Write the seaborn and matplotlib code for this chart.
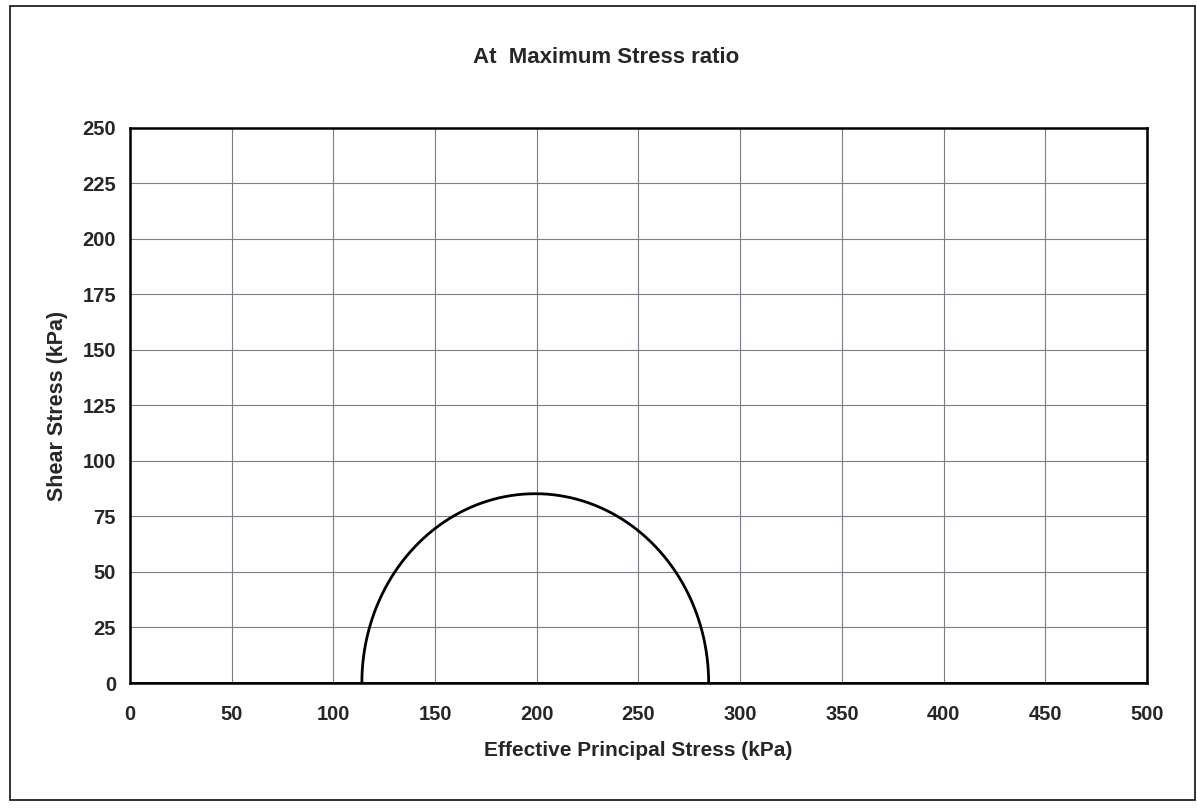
import numpy as np
import pandas as pd
import matplotlib
matplotlib.use("Agg")
import matplotlib.pyplot as plt
import seaborn as sns

# Principal effective stresses at maximum stress ratio (kPa)
sigma3 = 114.0
sigma1 = 284.5

x_ticks = [0, 50, 100, 150, 200, 250, 300, 350, 400, 450, 500]
y_ticks = [0, 25, 50, 75, 100, 125, 150, 175, 200, 225, 250]

# Mohr circle (upper half) from the two principal stresses
centre = (sigma1 + sigma3) / 2
radius = (sigma1 - sigma3) / 2
theta = np.linspace(np.pi, 0, 181)
circle = pd.DataFrame({
    "sigma": centre + radius * np.cos(theta),
    "tau": radius * np.sin(theta),
})

sns.set_style("white")
plt.rcParams["font.family"] = ["Liberation Sans", "DejaVu Sans"]

fig = plt.figure(figsize=(11.97, 8.08), dpi=100)
ax = fig.add_axes([0.1086, 0.1547, 0.8496, 0.687])

sns.lineplot(data=circle, x="sigma", y="tau", sort=False, color="black",
             linewidth=2.0, ax=ax)
ax.axhline(0, color="black", linewidth=2.0, zorder=3)

ax.set_xlim(0, 500)
ax.set_ylim(0, 250)
ax.set_xticks(x_ticks)
ax.set_yticks(y_ticks)
ax.set_xticklabels([str(v) for v in x_ticks], fontsize=14.5, fontweight="bold")
ax.set_yticklabels([str(v) for v in y_ticks], fontsize=14.5, fontweight="bold")
ax.tick_params(axis="both", direction="out", length=5, width=0.8, color="#555555")
ax.tick_params(axis="x", pad=11)
ax.tick_params(axis="y", pad=5)

ax.grid(True, color="#7d7d85", linewidth=0.8)
ax.set_axisbelow(True)
for s in ax.spines.values():
    s.set_color("black")
    s.set_linewidth(1.8)

ax.set_xlabel("Effective Principal Stress (kPa)", fontsize=15, fontweight="bold",
              labelpad=12)
ax.set_ylabel("Shear Stress (kPa)", fontsize=15.5, fontweight="bold", labelpad=10)
fig.text(0.506, 0.929, "At  Maximum Stress ratio", ha="center", va="center",
         fontsize=16, fontweight="bold")

# Outer frame around the whole chart area
frame = plt.Rectangle((10 / 1197, 1 - 800 / 808), 1185 / 1197, 794 / 808,
                      transform=fig.transFigure, fill=False,
                      edgecolor="#222222", linewidth=1.3)
fig.patches.append(frame)

fig.savefig("out.png", dpi=100, facecolor="white")
